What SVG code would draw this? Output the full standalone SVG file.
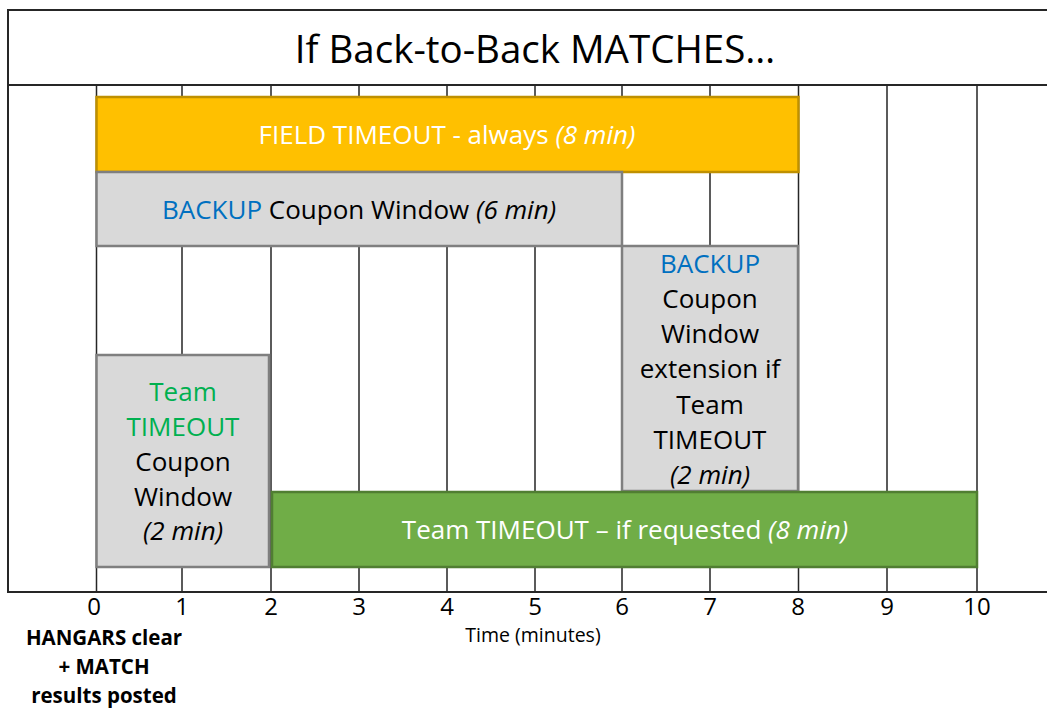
<svg xmlns="http://www.w3.org/2000/svg" width="1047" height="708" viewBox="0 0 1047 708">
<style>
text{font-family:"Open Sans","Liberation Sans",sans-serif;text-anchor:middle}
.grid{stroke:#262626;stroke-width:1.5}
.frame{stroke:#262626;stroke-width:2;fill:none}
.gray{fill:#D9D9D9;stroke:#7F7F7F;stroke-width:2.5}
.lbl{font-size:26px;fill:#000}
.w{fill:#fff}
.i{font-style:italic}
.blue{fill:#0070C0}
.green{fill:#00B050}
.tick{font-size:24px;fill:#000}
.hb{font-size:20.5px;font-weight:bold;fill:#000}
</style>
<rect width="1047" height="708" fill="#fff"/>
<g id="title">
<path class="frame" d="M1047,10 H8 V85 H1047"/>
<text x="535" y="63" font-size="38.5" fill="#000">If Back-to-Back MATCHES…</text>
</g>
<g id="grid">
<path class="frame" d="M8,85 V592 H1047"/>
<path class="grid" d="M96.5,85V592M182,85V592M271,85V592M359,85V592M447,85V592M535,85V592M622,85V592M710,85V592M798.5,85V592M887,85V592M977,85V592"/>
</g>
<g id="field-timeout">
<rect x="96.5" y="97" width="702" height="75" fill="#FFC000" stroke="#BF9000" stroke-width="2.5"/>
<text class="lbl w" x="447" y="144">FIELD TIMEOUT - always <tspan class="i">(8 min)</tspan></text>
</g>
<g id="backup-window">
<rect class="gray" x="96.5" y="172" width="525.5" height="74"/>
<text class="lbl" x="359" y="219"><tspan class="blue">BACKUP</tspan> Coupon Window <tspan class="i">(6 min)</tspan></text>
</g>
<g id="backup-extension">
<rect class="gray" x="622" y="246" width="176" height="245"/>
<text class="lbl" x="710"><tspan class="blue" x="710" y="273">BACKUP</tspan><tspan x="710" y="308">Coupon</tspan><tspan x="710" y="343">Window</tspan><tspan x="710" y="378">extension if</tspan><tspan x="710" y="414">Team</tspan><tspan x="710" y="449">TIMEOUT</tspan><tspan class="i" x="710" y="484">(2 min)</tspan></text>
</g>
<g id="team-coupon">
<rect class="gray" x="96.5" y="355" width="172.5" height="212"/>
<text class="lbl" x="183"><tspan class="green" x="183" y="401">Team</tspan><tspan class="green" x="183" y="436">TIMEOUT</tspan><tspan x="183" y="471">Coupon</tspan><tspan x="183" y="506">Window</tspan><tspan class="i" x="183" y="540">(2 min)</tspan></text>
</g>
<g id="team-timeout">
<rect x="272" y="492" width="705" height="75" fill="#70AD47" stroke="#507E32" stroke-width="2.5"/>
<text class="lbl w" x="625" y="539">Team TIMEOUT – if requested <tspan class="i">(8 min)</tspan></text>
</g>
<g id="axis">
<text class="tick" x="94" y="615">0</text>
<text class="tick" x="182" y="615">1</text>
<text class="tick" x="271" y="615">2</text>
<text class="tick" x="359" y="615">3</text>
<text class="tick" x="447" y="615">4</text>
<text class="tick" x="535" y="615">5</text>
<text class="tick" x="622" y="615">6</text>
<text class="tick" x="710" y="615">7</text>
<text class="tick" x="798" y="615">8</text>
<text class="tick" x="887" y="615">9</text>
<text class="tick" x="977" y="615">10</text>
<text x="533" y="642" font-size="19.5" fill="#000">Time (minutes)</text>
</g>
<g id="start-note">
<text class="hb" x="104"><tspan x="104" y="645">HANGARS clear</tspan><tspan x="104" y="674">+ MATCH</tspan><tspan x="104" y="703">results posted</tspan></text>
</g>
</svg>
